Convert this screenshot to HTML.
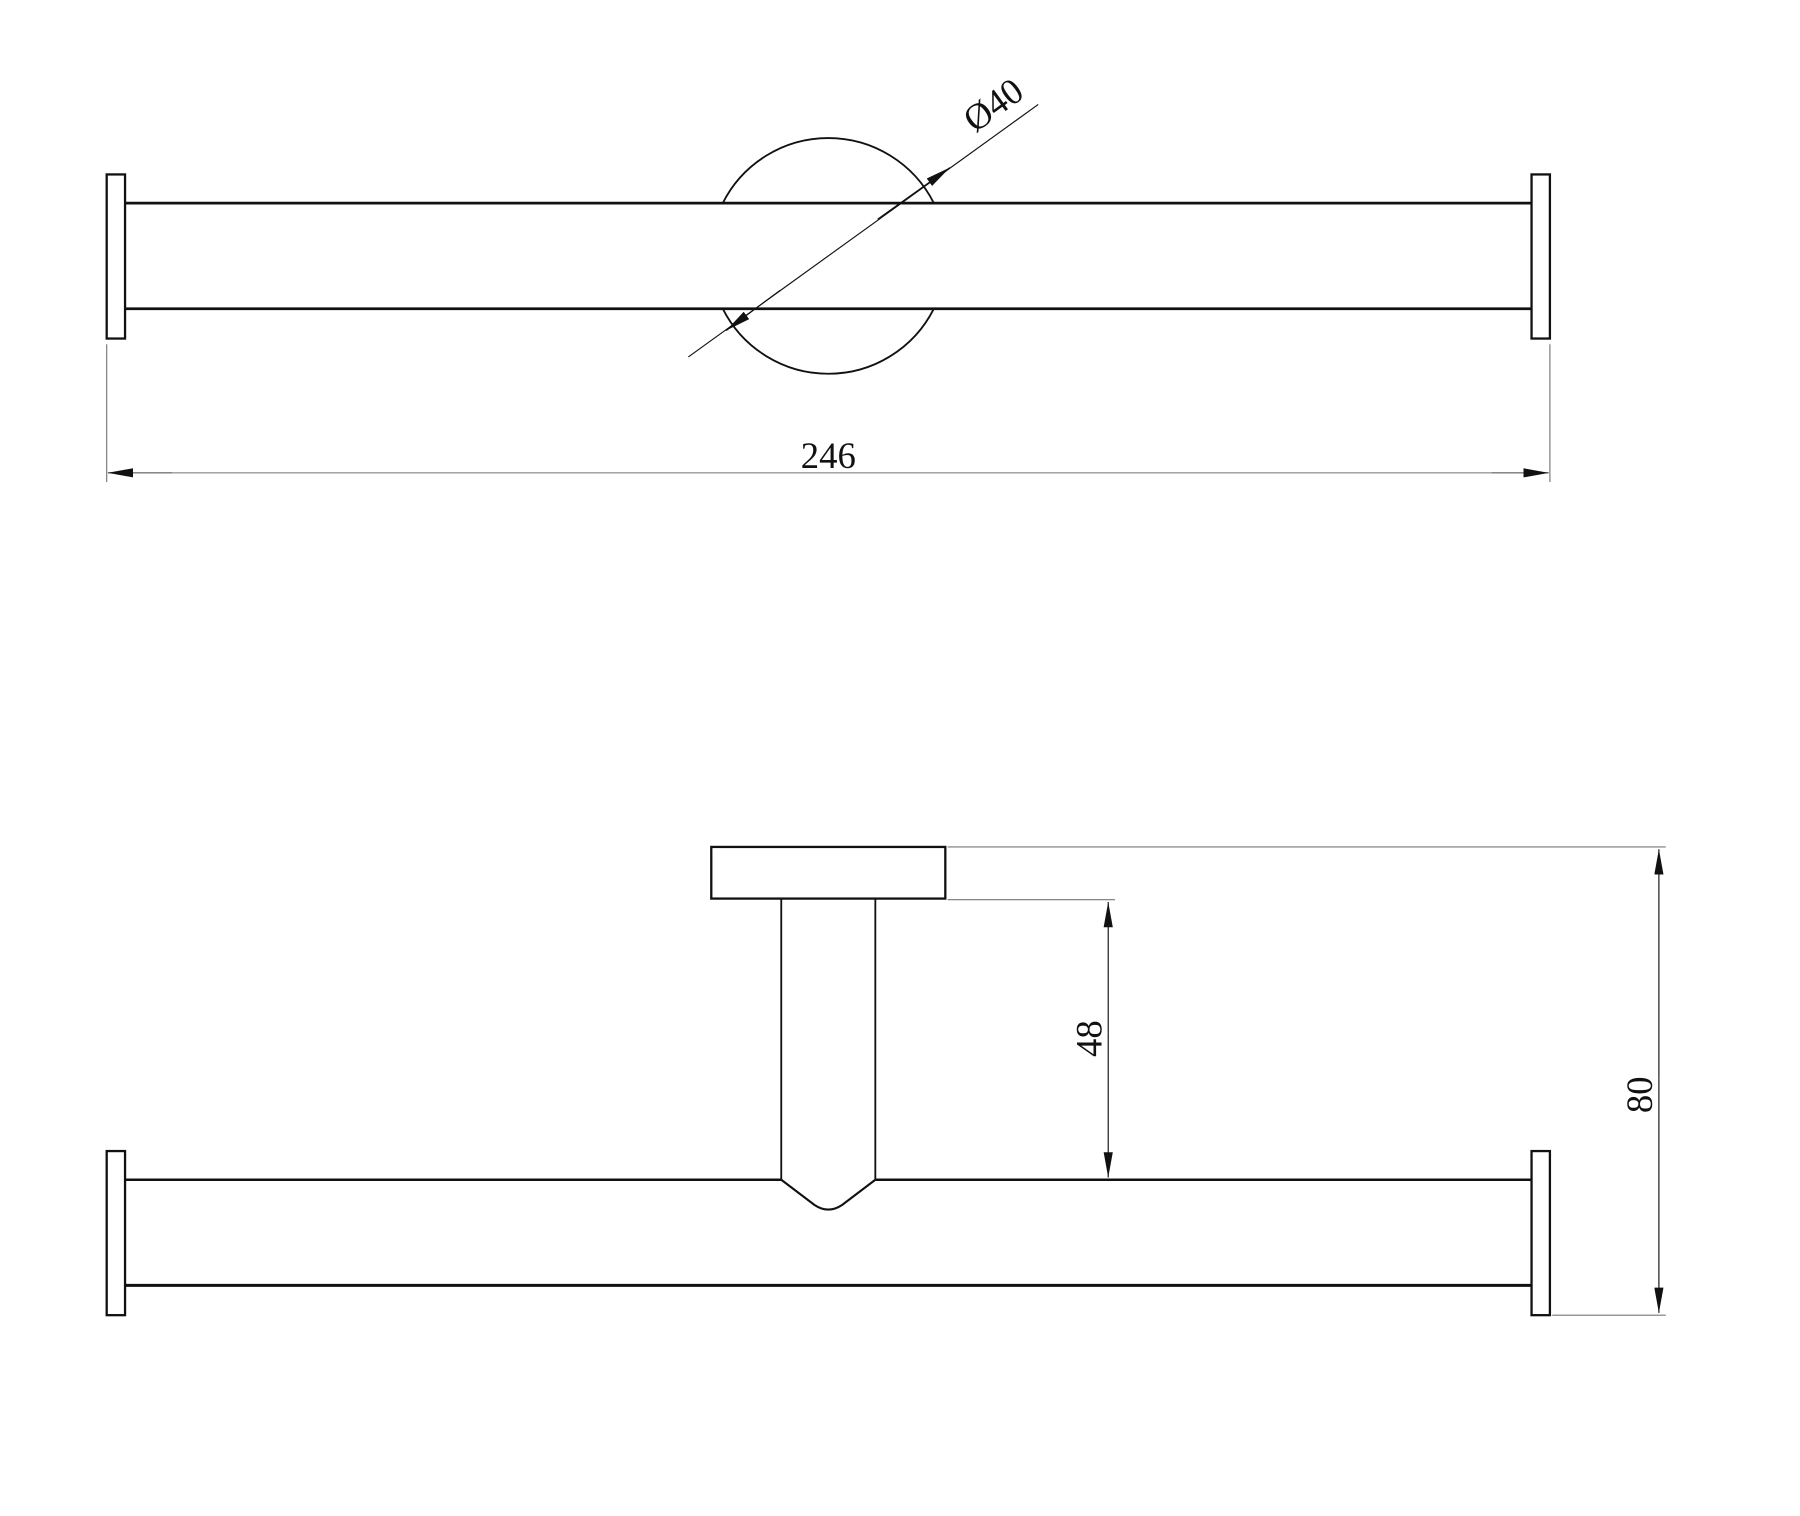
<!DOCTYPE html>
<html><head><meta charset="utf-8"><style>
html,body{margin:0;padding:0;background:#fff;width:1800px;height:1516px;overflow:hidden}
svg{display:block}
text{font-family:"Liberation Serif",serif;fill:#111}
</style></head><body>
<svg width="1800" height="1516" viewBox="0 0 1569 1321" preserveAspectRatio="none">
<defs>
<marker id="a" viewBox="0 0 10 10" refX="10" refY="5" markerWidth="22" markerHeight="8" markerUnits="userSpaceOnUse" orient="auto" preserveAspectRatio="none"><path d="M0,0 L10,5 L0,10 z" fill="#111"/></marker>
</defs>
<g fill="none" stroke="#111">
<!-- top view -->
<path d="M630,177 A103,103 0 0 1 814,177" stroke-width="1.6"/>
<path d="M630,269 A103,103 0 0 0 814,269" stroke-width="1.6"/>
<line x1="109" y1="177" x2="1335" y2="177" stroke-width="2.4"/>
<line x1="109" y1="269" x2="1335" y2="269" stroke-width="2.4"/>
<rect x="93" y="152" width="16" height="143" stroke-width="2"/>
<rect x="1335" y="152" width="16" height="143" stroke-width="2"/>
<line x1="600" y1="311" x2="905" y2="91" stroke-width="1"/>
<line x1="680" y1="253" x2="633" y2="288" marker-end="url(#a)" stroke-width="1"/>
<line x1="765" y1="191" x2="828" y2="146" marker-end="url(#a)" stroke-width="1"/>
<line x1="93" y1="300" x2="93" y2="420" stroke-width="1" stroke="#777"/>
<line x1="1351" y1="300" x2="1351" y2="420" stroke-width="1" stroke="#777"/>
<line x1="150" y1="412" x2="94" y2="412" marker-end="url(#a)" stroke-width="1.2" stroke="#777"/>
<line x1="150" y1="412" x2="1300" y2="412" stroke-width="1.2" stroke="#999"/>
<line x1="1300" y1="412" x2="1350" y2="412" marker-end="url(#a)" stroke-width="1.2" stroke="#777"/>
<!-- bottom view -->
<rect x="620" y="738" width="204" height="45" stroke-width="2"/>
<line x1="681" y1="783" x2="681" y2="1028" stroke-width="1.6"/>
<line x1="763" y1="783" x2="763" y2="1028" stroke-width="1.6"/>
<path d="M681,1028 L710,1050 Q722,1058 734,1050 L763,1028" stroke-width="1.8"/>
<line x1="109" y1="1028" x2="681" y2="1028" stroke-width="2.2"/>
<line x1="763" y1="1028" x2="1335" y2="1028" stroke-width="2.2"/>
<line x1="109" y1="1120" x2="1335" y2="1120" stroke-width="2.6"/>
<rect x="93" y="1003" width="16" height="143" stroke-width="2"/>
<rect x="1335" y="1003" width="16" height="143" stroke-width="2"/>
<line x1="826" y1="738" x2="1452" y2="738" stroke-width="1" stroke="#777"/>
<line x1="826" y1="784" x2="972" y2="784" stroke-width="1" stroke="#777"/>
<line x1="1353" y1="1146" x2="1452" y2="1146" stroke-width="1" stroke="#777"/>
<line x1="966" y1="900" x2="966" y2="786" marker-end="url(#a)" stroke-width="1"/>
<line x1="966" y1="900" x2="966" y2="1026" marker-end="url(#a)" stroke-width="1"/>
<line x1="1446" y1="940" x2="1446" y2="740" marker-end="url(#a)" stroke-width="1"/>
<line x1="1446" y1="940" x2="1446" y2="1144" marker-end="url(#a)" stroke-width="1"/>
</g>
<text x="722" y="408" font-size="32" text-anchor="middle">246</text>
<text transform="translate(872,100) rotate(-36)" font-size="32" text-anchor="middle">Ø40</text>
<text transform="translate(960,905) rotate(-90)" font-size="32" text-anchor="middle">48</text>
<text transform="translate(1440,954) rotate(-90)" font-size="32" text-anchor="middle">80</text>
</svg>
</body></html>
